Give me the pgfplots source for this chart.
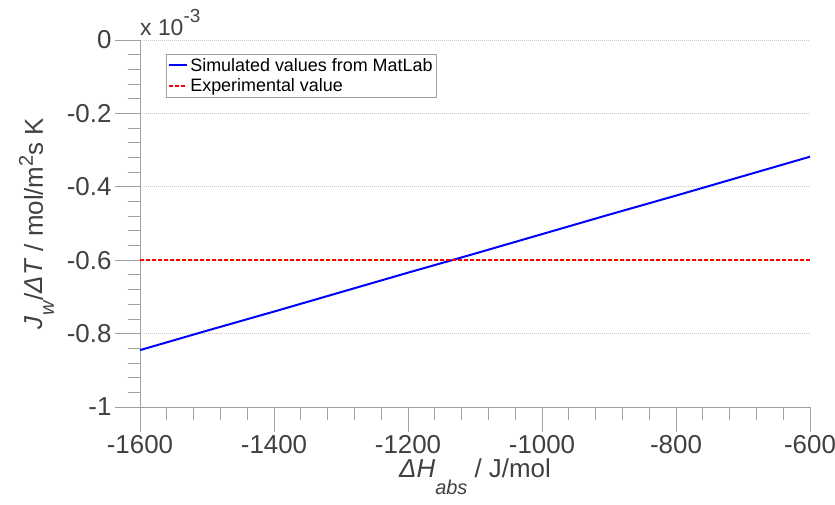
\documentclass[border=0pt]{standalone}
\usepackage{fontspec}
\setmainfont{Liberation Sans}
\usepackage{pgfplots}
\pgfplotsset{compat=1.18}

\definecolor{axisgray}{RGB}{160,160,160}
\definecolor{labelgray}{RGB}{64,64,64}
\definecolor{gridgray}{RGB}{200,200,200}
\newcommand\tickfont{\fontsize{26}{31}\selectfont}
\newcommand\legfont{\fontsize{18}{22}\selectfont}
\newcommand\smallfont{\fontsize{20}{24}\selectfont}
% lowered / raised index text in the labels
\newcommand\lowered[2]{\raisebox{-#1}{\smallfont #2}}
\newcommand\raised[2]{\raisebox{#1}{\smallfont #2}}

% Simulated flux per temperature difference vs. absorption enthalpy
\pgfplotstableread{
x      y
-1600  -0.000845
-1500  -0.000792
-1400  -0.000740
-1300  -0.000687
-1200  -0.000634
-1100  -0.000582
-1000  -0.000529
-900   -0.000476
-800   -0.000424
-700   -0.000371
-600   -0.000318
}\simulated

\pgfplotstableread{
x      y
-1600  -0.0006
-600   -0.0006
}\experimental

\begin{document}
\begin{tikzpicture}
\useasboundingbox (-140bp,-98bp) rectangle (695bp,407bp);
\begin{axis}[
  scale only axis,
  width=670bp, height=367bp,
  xmin=-1600, xmax=-600,
  ymin=-0.001, ymax=0,
  xtick={-1600,-1400,...,-600},
  ytick={-0.001,-0.0008,-0.0006,-0.0004,-0.0002,0},
  minor tick num=4,
  axis x line*=bottom,
  axis y line*=left,
  axis line style={axisgray, line width=0.8bp},
  every tick/.style={axisgray, line width=0.8bp},
  tick align=outside,
  major tick length=25bp,
  minor tick length=12.5bp,
  ymajorgrids,
  major grid style={gridgray, line width=0.6bp, dash pattern=on 1bp off 1bp},
  /pgf/number format/assume math mode=true,
  /pgf/number format/1000 sep={},
  tick label style={font=\tickfont, text=labelgray},
  scaled x ticks=false,
  scaled y ticks=base 10:3,
  ytick scale label code/.code={\fontsize{23}{28}\selectfont x 10\raisebox{13bp}{\fontsize{19}{23}\selectfont -3}},
  every y tick scale label/.style={at={(rel axis cs:0,1)}, anchor=base west,
    yshift=4bp, inner sep=0pt, text=labelgray},
  yticklabel style={/pgf/number format/fixed},
  xlabel={\textit{ΔH}\lowered{17bp}{\textit{abs}} / J/mol},
  ylabel={\textit{J}\lowered{11bp}{\textit{w}}/\textit{ΔT} / mol/m\raised{10bp}{2}s K},
  label style={font=\tickfont, text=labelgray},
  xlabel style={at={(axis description cs:0.5,-0.191)}, anchor=base},
  ylabel style={at={(axis description cs:-0.145,0.5)}, anchor=base},
  legend style={at={(rel axis cs:0.039,0.962)}, anchor=north west,
    draw=axisgray, font=\legfont, inner sep=2bp, row sep=2bp,
    legend cell align=left},
  legend image code/.code={\draw[#1] (0bp,0bp) -- (18bp,0bp);},
]
\addplot[blue, line width=2bp] table[x=x, y=y] {\simulated};
\addlegendentry{Simulated values from MatLab}
\addplot[red, line width=1.5bp, dash pattern=on 4bp off 2bp] table[x=x, y=y] {\experimental};
\addlegendentry{Experimental value}
\end{axis}
\end{tikzpicture}
\end{document}
